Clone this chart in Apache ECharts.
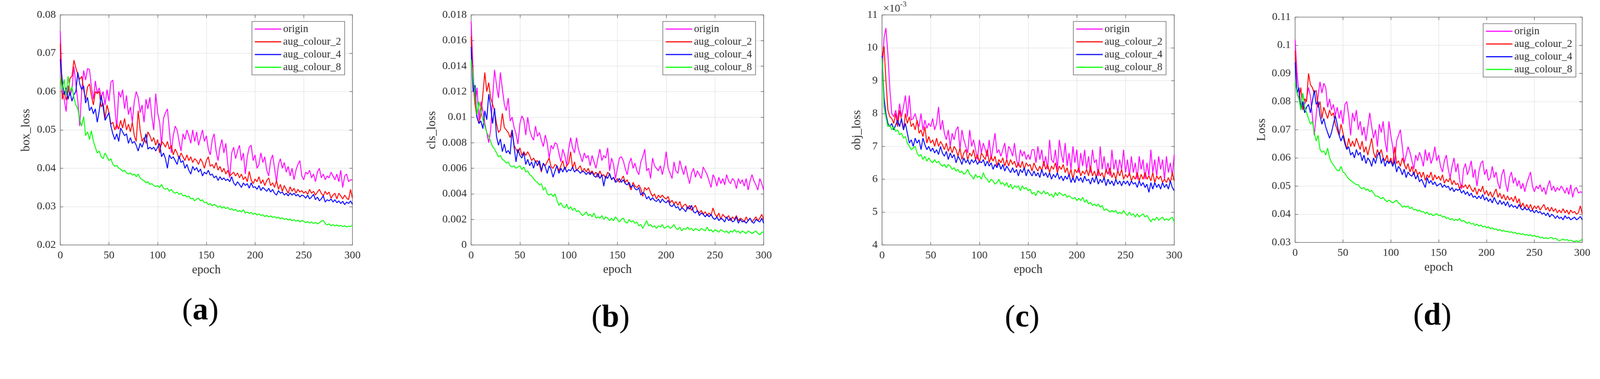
<!DOCTYPE html>
<html><head><meta charset="utf-8">
<script src="https://cdn.jsdelivr.net/npm/echarts@6/dist/echarts.min.js"></script>
<style>html,body{margin:0;padding:0;background:#fff;overflow:hidden}
#wrap{width:100vw;height:100vh;overflow:hidden;position:relative;background:#fff}
#c{width:4408px;height:969px;transform-origin:0 0;position:absolute;left:0;top:0}</style>
</head><body><div id="wrap"><div id="c"></div></div>
<script>
// ---------------- data ----------------
const epochs = [
0,2,4,6,8,10,12,14,16,18,
20,22,24,26,28,30,32,34,36,38,
40,42,44,46,48,50,52,54,56,58,
60,62,64,66,68,70,72,74,76,78,
80,82,84,86,88,90,92,94,96,98,
100,102,104,106,108,110,112,114,116,118,
120,122,124,126,128,130,132,134,136,138,
140,142,144,146,148,150,152,154,156,158,
160,162,164,166,168,170,172,174,176,178,
180,182,184,186,188,190,192,194,196,198,
200,202,204,206,208,210,212,214,216,218,
220,222,224,226,228,230,232,234,236,238,
240,242,244,246,248,250,252,254,256,258,
260,262,264,266,268,270,272,274,276,278,
280,282,284,286,288,290,292,294,296,298,
300];
const seriesNames = ['origin','aug_colour_2','aug_colour_4','aug_colour_8'];
const seriesColors = ['#ff00ff','#ff0000','#0000ff','#00ff00'];
const yTitles = ['box_loss','cls_loss','obj_loss','Loss'];
const xTitle = 'epoch';
const panelLetters = ['a','b','c','d'];
const xTicks = [0,300,50];                 // min, max, step
const yTicks = [[0.02,0.08,0.01],[0,0.018,0.002],[4,11,1],[0.03,0.11,0.01]];
const objExponent = '-3';                  // panel (c) values are in units of 10^-3

// (a) box_loss
const boxOrigin = [
0.0758,0.0600,0.0580,0.0548,0.0615,0.0590,0.0605,0.0665,0.0620,0.0575,
0.0510,0.0600,0.0655,0.0630,0.0660,0.0658,0.0612,0.0580,0.0628,0.0595,
0.0610,0.0585,0.0600,0.0565,0.0605,0.0575,0.0625,0.0630,0.0560,0.0502,
0.0600,0.0585,0.0605,0.0555,0.0590,0.0540,0.0560,0.0520,0.0575,0.0600,
0.0585,0.0545,0.0565,0.0520,0.0580,0.0555,0.0585,0.0535,0.0500,0.0595,
0.0545,0.0520,0.0460,0.0530,0.0545,0.0555,0.0500,0.0440,0.0485,0.0510,
0.0500,0.0470,0.0445,0.0490,0.0475,0.0500,0.0485,0.0465,0.0500,0.0470,
0.0495,0.0460,0.0480,0.0500,0.0470,0.0485,0.0450,0.0435,0.0475,0.0490,
0.0445,0.0420,0.0455,0.0475,0.0440,0.0465,0.0410,0.0375,0.0440,0.0455,
0.0425,0.0445,0.0460,0.0420,0.0440,0.0385,0.0430,0.0455,0.0460,0.0420,
0.0435,0.0400,0.0410,0.0440,0.0415,0.0430,0.0395,0.0380,0.0420,0.0435,
0.0400,0.0365,0.0410,0.0425,0.0400,0.0415,0.0390,0.0405,0.0380,0.0400,
0.0370,0.0395,0.0410,0.0420,0.0380,0.0370,0.0390,0.0385,0.0395,0.0375,
0.0385,0.0365,0.0390,0.0400,0.0375,0.0385,0.0370,0.0380,0.0375,0.0390,
0.0380,0.0370,0.0385,0.0365,0.0395,0.0350,0.0380,0.0385,0.0365,0.0370,
0.0370];
const boxAug2 = [
0.0725,0.0580,0.0600,0.0578,0.0600,0.0635,0.0640,0.0682,0.0662,0.0645,
0.0632,0.0640,0.0605,0.0580,0.0612,0.0620,0.0590,0.0565,0.0600,0.0595,
0.0600,0.0560,0.0570,0.0530,0.0565,0.0545,0.0515,0.0520,0.0500,0.0515,
0.0502,0.0525,0.0505,0.0530,0.0500,0.0515,0.0495,0.0520,0.0485,0.0470,
0.0550,0.0500,0.0470,0.0480,0.0465,0.0495,0.0485,0.0470,0.0480,0.0460,
0.0475,0.0440,0.0470,0.0465,0.0455,0.0470,0.0450,0.0460,0.0435,0.0450,
0.0440,0.0425,0.0440,0.0430,0.0420,0.0435,0.0420,0.0430,0.0415,0.0425,
0.0420,0.0410,0.0425,0.0415,0.0400,0.0420,0.0430,0.0405,0.0410,0.0400,
0.0415,0.0395,0.0405,0.0390,0.0400,0.0385,0.0395,0.0380,0.0385,0.0390,
0.0380,0.0388,0.0375,0.0385,0.0370,0.0378,0.0365,0.0392,0.0370,0.0360,
0.0372,0.0365,0.0378,0.0360,0.0370,0.0355,0.0368,0.0375,0.0355,0.0362,
0.0350,0.0368,0.0345,0.0358,0.0340,0.0355,0.0345,0.0335,0.0352,0.0340,
0.0348,0.0335,0.0345,0.0338,0.0342,0.0335,0.0340,0.0332,0.0345,0.0335,
0.0340,0.0330,0.0338,0.0345,0.0335,0.0328,0.0340,0.0332,0.0338,0.0322,
0.0330,0.0335,0.0320,0.0335,0.0328,0.0320,0.0330,0.0322,0.0318,0.0345,
0.0322];
const boxAug4 = [
0.0685,0.0630,0.0592,0.0610,0.0580,0.0600,0.0575,0.0592,0.0600,0.0650,
0.0620,0.0605,0.0615,0.0570,0.0585,0.0550,0.0560,0.0542,0.0555,0.0520,
0.0550,0.0590,0.0560,0.0525,0.0535,0.0545,0.0510,0.0490,0.0475,0.0490,
0.0470,0.0505,0.0495,0.0485,0.0490,0.0465,0.0480,0.0465,0.0470,0.0460,
0.0445,0.0465,0.0455,0.0470,0.0490,0.0450,0.0455,0.0450,0.0455,0.0445,
0.0455,0.0465,0.0430,0.0440,0.0425,0.0400,0.0435,0.0425,0.0430,0.0420,
0.0410,0.0432,0.0415,0.0420,0.0400,0.0410,0.0395,0.0385,0.0405,0.0395,
0.0402,0.0390,0.0398,0.0380,0.0390,0.0385,0.0395,0.0382,0.0385,0.0375,
0.0380,0.0368,0.0378,0.0370,0.0375,0.0368,0.0372,0.0365,0.0378,0.0362,
0.0355,0.0365,0.0358,0.0350,0.0362,0.0355,0.0360,0.0348,0.0362,0.0350,
0.0352,0.0345,0.0355,0.0342,0.0350,0.0345,0.0340,0.0348,0.0338,0.0345,
0.0335,0.0330,0.0342,0.0335,0.0338,0.0330,0.0335,0.0328,0.0336,0.0330,
0.0335,0.0328,0.0332,0.0325,0.0330,0.0328,0.0322,0.0330,0.0320,0.0325,
0.0332,0.0318,0.0325,0.0315,0.0320,0.0328,0.0312,0.0318,0.0315,0.0320,
0.0312,0.0318,0.0310,0.0315,0.0308,0.0314,0.0305,0.0312,0.0308,0.0315,
0.0306];
const boxAug8 = [
0.0635,0.0605,0.0632,0.0590,0.0640,0.0600,0.0612,0.0585,0.0565,0.0555,
0.0525,0.0510,0.0535,0.0485,0.0495,0.0475,0.0498,0.0470,0.0455,0.0440,
0.0445,0.0430,0.0425,0.0440,0.0430,0.0420,0.0425,0.0410,0.0405,0.0408,
0.0400,0.0398,0.0392,0.0395,0.0388,0.0385,0.0388,0.0382,0.0385,0.0378,
0.0385,0.0375,0.0370,0.0368,0.0362,0.0365,0.0358,0.0360,0.0355,0.0352,
0.0355,0.0350,0.0358,0.0348,0.0345,0.0348,0.0340,0.0345,0.0338,0.0335,
0.0338,0.0332,0.0335,0.0328,0.0330,0.0325,0.0328,0.0320,0.0322,0.0315,
0.0320,0.0322,0.0315,0.0318,0.0310,0.0312,0.0305,0.0308,0.0302,0.0306,
0.0303,0.0298,0.0302,0.0296,0.0300,0.0295,0.0298,0.0292,0.0295,0.0290,
0.0293,0.0287,0.0290,0.0286,0.0292,0.0283,0.0286,0.0282,0.0285,0.0280,
0.0283,0.0278,0.0281,0.0277,0.0279,0.0274,0.0277,0.0273,0.0276,0.0272,
0.0274,0.0270,0.0273,0.0268,0.0271,0.0266,0.0269,0.0265,0.0268,0.0263,
0.0266,0.0262,0.0265,0.0260,0.0264,0.0262,0.0258,0.0261,0.0257,0.0260,
0.0256,0.0259,0.0255,0.0258,0.0262,0.0264,0.0256,0.0252,0.0255,0.0250,
0.0253,0.0250,0.0252,0.0249,0.0251,0.0248,0.0250,0.0247,0.0249,0.0248,
0.0252];

// (b) cls_loss
const clsOrigin = [
0.0175,0.0135,0.0110,0.0123,0.0098,0.0112,0.0105,0.0095,0.0088,0.0080,
0.0090,0.0115,0.0137,0.0125,0.0115,0.0135,0.0122,0.0110,0.0105,0.0115,
0.0097,0.0100,0.0092,0.0087,0.0079,0.0095,0.0101,0.0098,0.0086,0.0100,
0.0090,0.0085,0.0082,0.0093,0.0085,0.0088,0.0082,0.0077,0.0086,0.0080,
0.0068,0.0078,0.0075,0.0080,0.0079,0.0072,0.0065,0.0075,0.0070,0.0062,
0.0075,0.0084,0.0076,0.0072,0.0084,0.0075,0.0070,0.0065,0.0072,0.0068,
0.0070,0.0062,0.0070,0.0065,0.0060,0.0068,0.0075,0.0066,0.0070,0.0068,
0.0076,0.0058,0.0068,0.0063,0.0052,0.0060,0.0068,0.0069,0.0066,0.0060,
0.0055,0.0064,0.0068,0.0060,0.0064,0.0058,0.0055,0.0065,0.0069,0.0075,
0.0058,0.0060,0.0052,0.0068,0.0062,0.0060,0.0058,0.0062,0.0055,0.0062,
0.0073,0.0060,0.0056,0.0052,0.0065,0.0058,0.0056,0.0066,0.0060,0.0055,
0.0062,0.0054,0.0048,0.0056,0.0060,0.0053,0.0058,0.0055,0.0052,0.0061,
0.0058,0.0055,0.0050,0.0045,0.0055,0.0052,0.0046,0.0053,0.0048,0.0052,
0.0047,0.0055,0.0050,0.0048,0.0052,0.0050,0.0044,0.0052,0.0048,0.0051,
0.0046,0.0052,0.0043,0.0050,0.0055,0.0050,0.0047,0.0043,0.0052,0.0048,
0.0043];
const clsAug2 = [
0.0163,0.0128,0.0110,0.0100,0.0095,0.0102,0.0118,0.0135,0.0120,0.0127,
0.0115,0.0110,0.0105,0.0095,0.0088,0.0090,0.0103,0.0092,0.0090,0.0088,
0.0084,0.0090,0.0078,0.0075,0.0072,0.0076,0.0070,0.0073,0.0070,0.0073,
0.0070,0.0066,0.0068,0.0065,0.0066,0.0063,0.0057,0.0064,0.0062,0.0065,
0.0068,0.0061,0.0060,0.0063,0.0062,0.0058,0.0062,0.0066,0.0059,0.0062,
0.0064,0.0073,0.0060,0.0065,0.0058,0.0060,0.0062,0.0057,0.0060,0.0057,
0.0060,0.0056,0.0058,0.0055,0.0057,0.0053,0.0058,0.0054,0.0055,0.0052,
0.0057,0.0055,0.0051,0.0053,0.0050,0.0052,0.0049,0.0051,0.0054,0.0049,
0.0051,0.0047,0.0043,0.0049,0.0046,0.0045,0.0047,0.0044,0.0038,0.0045,
0.0043,0.0045,0.0041,0.0038,0.0040,0.0036,0.0039,0.0037,0.0039,0.0037,
0.0036,0.0038,0.0033,0.0035,0.0032,0.0034,0.0031,0.0034,0.0029,0.0031,
0.0032,0.0028,0.0031,0.0027,0.0029,0.0031,0.0027,0.0025,0.0027,0.0024,
0.0026,0.0023,0.0025,0.0023,0.0029,0.0024,0.0022,0.0025,0.0020,0.0024,
0.0022,0.0021,0.0023,0.0019,0.0022,0.0020,0.0023,0.0019,0.0021,0.0020,
0.0018,0.0022,0.0019,0.0021,0.0018,0.0020,0.0022,0.0019,0.0021,0.0024,
0.0020];
const clsAug4 = [
0.0155,0.0120,0.0125,0.0100,0.0095,0.0097,0.0091,0.0105,0.0098,0.0118,
0.0108,0.0095,0.0107,0.0085,0.0078,0.0083,0.0073,0.0079,0.0072,0.0074,
0.0071,0.0090,0.0077,0.0065,0.0075,0.0070,0.0068,0.0072,0.0063,0.0067,
0.0062,0.0065,0.0060,0.0066,0.0062,0.0066,0.0058,0.0064,0.0061,0.0056,
0.0062,0.0059,0.0053,0.0058,0.0062,0.0056,0.0060,0.0057,0.0061,0.0057,
0.0059,0.0058,0.0061,0.0057,0.0059,0.0058,0.0056,0.0058,0.0057,0.0055,
0.0057,0.0055,0.0057,0.0054,0.0053,0.0056,0.0052,0.0055,0.0046,0.0054,
0.0052,0.0056,0.0051,0.0053,0.0049,0.0050,0.0052,0.0049,0.0051,0.0048,
0.0047,0.0049,0.0045,0.0047,0.0044,0.0043,0.0045,0.0039,0.0041,0.0040,
0.0036,0.0038,0.0035,0.0037,0.0035,0.0034,0.0036,0.0033,0.0036,0.0034,
0.0033,0.0035,0.0031,0.0030,0.0032,0.0029,0.0030,0.0027,0.0029,0.0028,
0.0026,0.0030,0.0028,0.0031,0.0026,0.0025,0.0027,0.0023,0.0025,0.0024,
0.0022,0.0024,0.0022,0.0024,0.0021,0.0020,0.0022,0.0019,0.0021,0.0020,
0.0018,0.0022,0.0019,0.0021,0.0018,0.0019,0.0022,0.0017,0.0020,0.0018,
0.0019,0.0017,0.0019,0.0021,0.0018,0.0017,0.0020,0.0019,0.0018,0.0021,
0.0017];
const clsAug8 = [
0.0145,0.0130,0.0118,0.0102,0.0112,0.0105,0.0098,0.0093,0.0088,0.0085,
0.0081,0.0077,0.0075,0.0072,0.0069,0.0070,0.0067,0.0066,0.0064,0.0065,
0.0062,0.0061,0.0062,0.0060,0.0061,0.0062,0.0059,0.0061,0.0057,0.0058,
0.0055,0.0054,0.0052,0.0050,0.0049,0.0047,0.0048,0.0043,0.0045,0.0040,
0.0039,0.0040,0.0038,0.0040,0.0035,0.0031,0.0033,0.0030,0.0029,0.0032,
0.0028,0.0030,0.0027,0.0029,0.0026,0.0027,0.0025,0.0023,0.0024,0.0026,
0.0023,0.0024,0.0022,0.0025,0.0021,0.0022,0.0021,0.0023,0.0020,0.0022,
0.0021,0.0019,0.0021,0.0019,0.0022,0.0020,0.0018,0.0020,0.0021,0.0018,
0.0017,0.0020,0.0018,0.0019,0.0017,0.0018,0.0015,0.0016,0.0013,0.0016,
0.0019,0.0015,0.0016,0.0014,0.0015,0.0013,0.0015,0.0014,0.0016,0.0013,
0.0014,0.0015,0.0013,0.0014,0.0016,0.0013,0.0012,0.0014,0.0011,0.0013,
0.0012,0.0014,0.0012,0.0013,0.0011,0.0013,0.0012,0.0011,0.0013,0.0012,
0.0011,0.0014,0.0011,0.0012,0.0010,0.0012,0.0011,0.0010,0.0012,0.0011,
0.0010,0.0011,0.0009,0.0011,0.0010,0.0012,0.0010,0.0011,0.0009,0.0011,
0.0010,0.0009,0.0011,0.0010,0.0009,0.0010,0.0011,0.0009,0.0008,0.0010,
0.0010];

// (c) obj_loss, in units of 10^-3 (as read on the axis)
const objOrigin = [
9.2,10.3,10.6,9.8,8.75,8.0,7.9,8.1,7.8,8.3,
7.9,8.2,8.55,7.9,8.55,7.8,7.85,8.0,7.75,7.6,
8.0,7.5,7.8,7.55,7.7,7.6,7.85,7.5,7.7,8.2,
7.5,7.8,7.4,7.2,7.5,7.0,7.4,7.2,7.5,7.6,
6.9,7.5,7.2,7.0,6.8,7.5,7.0,7.2,6.9,6.6,
7.2,6.8,7.1,6.9,6.7,7.2,6.6,7.0,7.4,6.8,
6.9,6.7,6.9,7.1,6.6,7.0,6.9,6.7,7.1,6.6,
6.4,6.9,6.7,6.85,6.6,6.75,6.6,6.9,6.9,6.5,
7.0,6.6,6.9,6.4,6.7,6.3,7.2,6.6,6.5,6.9,
6.3,7.2,6.8,6.5,7.1,6.4,6.8,6.3,7.0,6.5,
6.9,6.2,6.8,6.4,6.9,6.3,6.7,6.2,6.9,6.5,
6.6,6.1,7.0,6.3,6.7,6.2,6.5,6.1,6.9,6.3,
6.6,6.2,6.6,6.3,6.9,6.2,6.6,6.1,6.7,6.2,
6.5,6.0,6.7,6.3,6.6,6.0,6.5,6.1,6.9,6.2,
6.6,6.1,6.7,6.3,6.6,6.0,6.7,6.2,6.5,6.1,
6.75];
const objAug2 = [
9.7,10.05,9.0,8.1,7.9,7.85,7.7,8.0,7.6,8.1,
7.8,7.5,8.0,7.7,7.9,7.6,7.7,7.5,7.8,7.4,
7.5,7.3,7.6,7.1,7.3,7.1,7.2,7.0,7.25,7.0,
7.15,7.05,6.9,7.1,6.85,7.0,6.8,7.0,6.9,6.7,
6.95,6.6,6.8,6.9,6.6,6.8,6.7,6.9,6.6,6.75,
6.5,6.8,6.7,6.6,6.9,6.5,6.7,6.55,6.7,6.4,
6.6,6.5,6.65,6.4,6.6,6.4,6.6,6.45,6.55,6.35,
6.5,6.35,6.55,6.3,6.5,6.4,6.45,6.25,6.5,6.35,
6.25,6.4,6.25,6.55,6.3,6.45,6.2,6.4,6.3,6.5,
6.2,6.4,6.3,6.45,6.2,6.35,6.1,6.3,6.0,6.3,
6.2,6.35,6.1,6.25,6.15,6.3,6.1,6.4,6.1,6.25,
6.05,6.3,6.1,6.2,6.0,6.3,6.15,6.35,6.05,6.2,
6.0,6.25,6.1,6.3,6.0,6.15,6.05,6.2,5.95,6.1,
6.0,6.2,5.95,6.15,6.0,6.2,6.0,6.1,5.95,6.2,
5.9,6.1,6.0,6.1,5.9,6.0,5.9,6.05,5.9,6.2,
5.95];
const objAug4 = [
9.75,8.5,8.0,7.7,7.6,7.7,7.5,7.65,7.8,7.6,
7.85,7.5,7.7,7.4,7.1,7.2,7.0,7.25,7.1,7.2,
6.9,7.25,7.05,6.9,7.0,6.85,6.95,6.8,6.9,6.75,
7.0,6.8,6.7,6.85,6.6,6.8,6.65,6.75,6.5,6.7,
6.6,6.45,6.65,6.5,6.6,6.45,6.6,6.5,6.6,6.45,
6.55,6.5,6.6,6.4,6.55,6.4,6.5,6.3,6.45,6.35,
6.5,6.3,6.45,6.25,6.4,6.3,6.2,6.35,6.2,6.3,
6.1,6.3,6.2,6.35,6.1,6.3,6.2,6.1,6.25,6.1,
6.2,6.05,6.3,6.1,6.2,6.05,6.2,6.0,6.15,6.05,
6.2,6.0,6.1,5.95,6.1,6.0,6.15,5.9,6.05,5.9,
6.1,5.95,6.05,5.9,6.1,5.95,6.0,5.85,6.05,5.9,
6.1,5.85,6.0,5.9,6.05,5.8,6.0,5.85,5.95,5.8,
6.0,5.85,5.95,5.8,5.95,5.85,5.95,5.8,5.95,5.85,
5.9,5.75,5.95,5.8,5.9,5.75,5.85,5.6,5.9,5.7,
5.9,5.75,5.85,5.7,5.9,5.75,5.85,5.7,5.95,5.75,
5.65];
const objAug8 = [
9.7,8.2,7.9,7.6,7.65,7.5,7.6,7.45,7.5,7.35,
7.4,7.25,7.3,7.1,7.0,6.9,6.95,7.0,6.8,6.7,
6.75,6.6,6.7,6.55,6.65,6.55,6.5,6.6,6.5,6.55,
6.45,6.4,6.45,6.35,6.45,6.4,6.3,6.35,6.25,6.3,
6.2,6.25,6.15,6.2,6.3,6.15,6.1,6.0,6.15,6.05,
6.1,6.0,6.2,6.05,6.0,5.9,6.0,5.95,5.85,5.9,
6.0,5.85,5.9,5.8,5.9,5.75,5.85,5.7,5.8,5.75,
5.8,5.65,5.8,5.7,5.75,5.65,5.7,5.55,5.6,5.5,
5.65,5.6,5.55,5.65,5.55,5.6,5.5,5.55,5.45,5.6,
5.5,5.6,5.55,5.5,5.55,5.45,5.5,5.45,5.4,5.45,
5.35,5.42,5.35,5.45,5.3,5.38,5.25,5.3,5.2,5.25,
5.18,5.25,5.15,5.2,5.05,5.1,5.05,5.0,5.05,5.0,
5.05,4.95,5.0,4.95,5.05,4.95,4.9,5.0,4.9,4.95,
4.85,4.95,4.85,4.9,4.95,4.85,4.9,4.8,4.7,4.8,
4.75,4.85,4.75,4.8,4.85,4.75,4.8,4.75,4.8,4.85,
4.7];

// (d) Loss
const lossOrigin = [
0.102,0.090,0.083,0.078,0.083,0.079,0.081,0.085,0.082,0.075,
0.068,0.075,0.082,0.087,0.083,0.0865,0.085,0.078,0.081,0.077,
0.079,0.075,0.078,0.074,0.077,0.072,0.079,0.080,0.075,0.068,
0.076,0.073,0.077,0.070,0.073,0.068,0.071,0.066,0.071,0.076,
0.071,0.067,0.070,0.064,0.072,0.069,0.073,0.066,0.062,0.073,
0.068,0.064,0.058,0.066,0.068,0.070,0.064,0.058,0.061,0.064,
0.062,0.059,0.056,0.061,0.059,0.062,0.060,0.057,0.063,0.059,
0.062,0.058,0.060,0.064,0.059,0.061,0.057,0.055,0.059,0.061,
0.056,0.053,0.057,0.060,0.055,0.058,0.052,0.049,0.056,0.058,
0.054,0.056,0.059,0.053,0.056,0.050,0.055,0.058,0.059,0.054,
0.056,0.052,0.053,0.057,0.053,0.055,0.051,0.049,0.054,0.056,
0.051,0.048,0.053,0.055,0.051,0.053,0.050,0.052,0.049,0.051,
0.048,0.051,0.053,0.055,0.050,0.048,0.050,0.049,0.0505,0.048,
0.0495,0.047,0.050,0.052,0.0485,0.050,0.048,0.0495,0.0485,0.050,
0.049,0.0475,0.0495,0.047,0.0505,0.046,0.049,0.0495,0.0475,0.048,
0.0477];
const lossAug2 = [
0.098,0.083,0.081,0.085,0.077,0.081,0.080,0.090,0.086,0.085,
0.083,0.084,0.078,0.080,0.074,0.078,0.076,0.074,0.077,0.075,
0.076,0.072,0.070,0.068,0.072,0.069,0.066,0.063,0.067,0.064,
0.066,0.064,0.067,0.065,0.063,0.066,0.062,0.064,0.061,0.064,
0.067,0.062,0.060,0.063,0.061,0.063,0.060,0.059,0.061,0.058,
0.060,0.057,0.064,0.058,0.059,0.057,0.060,0.058,0.056,0.058,
0.055,0.057,0.054,0.056,0.054,0.055,0.053,0.055,0.052,0.054,
0.053,0.055,0.052,0.054,0.0525,0.0535,0.052,0.054,0.051,0.0525,
0.0515,0.053,0.0505,0.052,0.0505,0.051,0.049,0.0505,0.0495,0.0505,
0.049,0.0505,0.049,0.048,0.0495,0.047,0.049,0.048,0.050,0.047,
0.0485,0.0465,0.048,0.046,0.0475,0.049,0.046,0.0475,0.0455,0.047,
0.045,0.0465,0.045,0.046,0.0445,0.0465,0.044,0.0455,0.0425,0.044,
0.042,0.0435,0.042,0.0435,0.0415,0.043,0.042,0.043,0.0415,0.0425,
0.0435,0.0415,0.0425,0.041,0.0425,0.041,0.042,0.0405,0.0415,0.0405,
0.042,0.0405,0.0415,0.040,0.0415,0.0405,0.041,0.040,0.0405,0.043,
0.0402];
const lossAug4 = [
0.094,0.083,0.085,0.077,0.080,0.076,0.078,0.079,0.076,0.080,
0.084,0.079,0.080,0.075,0.072,0.074,0.071,0.069,0.067,0.069,
0.072,0.075,0.072,0.068,0.066,0.068,0.065,0.063,0.064,0.061,
0.062,0.060,0.063,0.061,0.062,0.059,0.061,0.058,0.060,0.059,
0.057,0.060,0.058,0.061,0.062,0.058,0.060,0.057,0.059,0.058,
0.059,0.057,0.059,0.055,0.057,0.056,0.054,0.056,0.053,0.055,
0.054,0.0535,0.055,0.0525,0.054,0.0515,0.0525,0.051,0.0495,0.053,
0.051,0.052,0.0505,0.0515,0.050,0.0505,0.051,0.0495,0.0505,0.0495,
0.050,0.0485,0.0495,0.048,0.049,0.0485,0.049,0.0475,0.0485,0.047,
0.048,0.0465,0.0475,0.046,0.0465,0.0455,0.0465,0.0455,0.047,0.045,
0.046,0.0445,0.0455,0.044,0.046,0.0445,0.0435,0.045,0.0435,0.0445,
0.043,0.0445,0.0425,0.0435,0.0425,0.043,0.042,0.0435,0.042,0.0415,
0.0425,0.0415,0.042,0.041,0.0415,0.0405,0.0415,0.0405,0.041,0.040,
0.0405,0.0395,0.0405,0.039,0.040,0.0395,0.0385,0.0395,0.0385,0.039,
0.038,0.0395,0.0385,0.039,0.038,0.0385,0.039,0.038,0.0385,0.0392,
0.038];
const lossAug8 = [
0.087,0.083,0.081,0.077,0.083,0.078,0.076,0.074,0.072,0.073,
0.069,0.066,0.068,0.063,0.062,0.0625,0.061,0.0635,0.060,0.0585,
0.0575,0.0565,0.0555,0.0555,0.057,0.055,0.0545,0.0535,0.0525,0.052,
0.0515,0.051,0.0505,0.0505,0.0495,0.049,0.0495,0.0485,0.049,0.048,
0.0485,0.0475,0.0465,0.0465,0.046,0.0455,0.046,0.045,0.0445,0.045,
0.0445,0.044,0.0445,0.045,0.044,0.0435,0.0425,0.043,0.0425,0.043,
0.042,0.0425,0.0415,0.0418,0.041,0.0415,0.0408,0.041,0.0402,0.0408,
0.0398,0.0402,0.0395,0.0398,0.0402,0.0395,0.0398,0.039,0.0393,0.0385,
0.0388,0.038,0.0385,0.0378,0.0382,0.0378,0.0385,0.0375,0.0378,0.0372,
0.0368,0.0372,0.0365,0.0368,0.036,0.0365,0.0358,0.0362,0.0355,0.0358,
0.0352,0.0356,0.0348,0.0352,0.0346,0.0348,0.0342,0.0346,0.034,0.0343,
0.0338,0.034,0.0336,0.0338,0.0333,0.0336,0.033,0.0333,0.0328,0.0331,
0.0326,0.0328,0.0324,0.0327,0.0322,0.0325,0.032,0.0322,0.0316,0.0319,
0.0314,0.0317,0.0313,0.0316,0.0318,0.0312,0.0315,0.031,0.0306,0.0309,
0.0312,0.0308,0.031,0.0306,0.0308,0.0305,0.0302,0.0306,0.0303,0.0306,
0.0312];

const panelData = [
  [boxOrigin, boxAug2, boxAug4, boxAug8],
  [clsOrigin, clsAug2, clsAug4, clsAug8],
  [objOrigin, objAug2, objAug4, objAug8],
  [lossOrigin, lossAug2, lossAug4, lossAug8]
];

// ---------------- layout & style (design space 4408 x 969) ----------------
const FONT = "'Liberation Serif','Times New Roman',serif";
const AXC = '#666666';
const TXT = '#2b2b2b';
const layout = [
  {grid:{left:166, top:41, width:805, height:633}, ylab:[72,358],   xlab:[568.5,743], sub:[552,857],  leg:[694,59]},
  {grid:{left:1298,top:41, width:806, height:633}, ylab:[1190,358], xlab:[1701,742],  sub:[1682,876], leg:[1826,59]},
  {grid:{left:2430,top:41, width:805, height:633}, ylab:[2361,358], xlab:[2832.5,742],sub:[2816,876], leg:[2957,59]},
  {grid:{left:3568,top:47, width:791, height:620}, ylab:[3476,357], xlab:[3963.5,736],sub:[3946,871], leg:[4086,65]}
];

const fmt = v => String(+Number(v).toFixed(4));
const grids = [], xAxes = [], yAxes = [], series = [], legends = [], graphics = [];
layout.forEach((L, p) => {
  grids.push(Object.assign({containLabel:false}, L.grid));
  const line = {show:true, onZero:false, lineStyle:{color:AXC, width:1.6}};
  const tick = {show:true, inside:true, length:8, lineStyle:{color:AXC, width:1.6}};
  const lab = {fontFamily:FONT, fontSize:30, color:TXT};
  const split = {show:true, lineStyle:{color:'#e4e4e4', width:1.5}};
  xAxes.push({gridIndex:p, type:'value', position:'bottom', min:xTicks[0], max:xTicks[1], interval:xTicks[2],
    axisLine:line, axisTick:tick, axisLabel:Object.assign({margin:14}, lab), splitLine:split});
  xAxes.push({gridIndex:p, type:'value', position:'top', min:xTicks[0], max:xTicks[1], interval:xTicks[2],
    axisLine:line, axisTick:tick, axisLabel:{show:false}, splitLine:{show:false}});
  const yt = yTicks[p];
  yAxes.push({gridIndex:p, type:'value', position:'left', min:yt[0], max:yt[1], interval:yt[2],
    axisLine:line, axisTick:tick, axisLabel:Object.assign({margin:12, formatter:fmt}, lab), splitLine:split});
  yAxes.push({gridIndex:p, type:'value', position:'right', min:yt[0], max:yt[1], interval:yt[2],
    axisLine:line, axisTick:tick, axisLabel:{show:false}, splitLine:{show:false}});
  panelData[p].forEach((arr, s) => {
    series.push({type:'line', name:seriesNames[s], xAxisIndex:2*p, yAxisIndex:2*p,
      data:epochs.map((e,k)=>[e, arr[k]]), showSymbol:false, symbol:'none', clip:true,
      lineStyle:{color:seriesColors[s], width:2.5}, itemStyle:{color:seriesColors[s]}, animation:false});
  });
  legends.push({left:L.leg[0], top:L.leg[1], orient:'vertical', icon:'rect', itemWidth:73, itemHeight:3,
    itemGap:5, padding:[6,10,6,8], borderColor:AXC, borderWidth:1.6, backgroundColor:'#fff',
    selectedMode:false, data:seriesNames,
    textStyle:{fontFamily:FONT, fontSize:29, color:TXT, lineHeight:30}});
  graphics.push({type:'text', x:L.ylab[0], y:L.ylab[1], rotation:Math.PI/2,
    style:{text:yTitles[p], fontFamily:FONT, fontSize:33, fill:TXT, align:'center', verticalAlign:'middle',
      textAlign:'center', textVerticalAlign:'middle'}});
  graphics.push({type:'text', x:L.xlab[0], y:L.xlab[1],
    style:{text:xTitle, fontFamily:FONT, fontSize:33, fill:TXT, align:'center', verticalAlign:'middle',
      textAlign:'center', textVerticalAlign:'middle'}});
  graphics.push({type:'text', x:L.sub[0], y:L.sub[1],
    style:{text:'{p|(}{b|' + panelLetters[p] + '}{p|)}', align:'center', verticalAlign:'middle',
      textAlign:'center', textVerticalAlign:'middle',
      rich:{p:{fontFamily:FONT, fontSize:86, fill:'#000', color:'#000'},
            b:{fontFamily:FONT, fontSize:86, fontWeight:'bold', fill:'#000', color:'#000'}}}});
});
// exponent label for panel (c)
graphics.push({type:'text', x:2433, y:24, style:{text:'\u00d710', fontFamily:FONT, fontSize:30, fill:TXT,
  align:'left', verticalAlign:'middle', textAlign:'left', textVerticalAlign:'middle'}});
graphics.push({type:'text', x:2480, y:12, style:{text:objExponent, fontFamily:FONT, fontSize:21, fill:TXT,
  align:'left', verticalAlign:'middle', textAlign:'left', textVerticalAlign:'middle'}});

// fit the 4408x969 design to whatever CSS viewport the page gets
const el = document.getElementById('c');
const fit = Math.min(window.innerWidth / 4408, window.innerHeight / 969) || 1;
el.style.transform = 'scale(' + fit + ')';
const dpr = Math.max(1, fit * (window.devicePixelRatio || 1));
const chart = echarts.init(el, null, {renderer:'canvas', devicePixelRatio:dpr, width:4408, height:969});
chart.setOption({animation:false, backgroundColor:'#fff', grid:grids, xAxis:xAxes, yAxis:yAxes,
  series:series, legend:legends, graphic:{elements:graphics}});
</script></body></html>
